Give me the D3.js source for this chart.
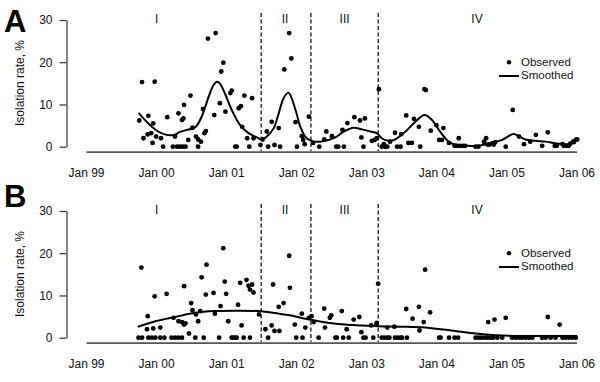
<!DOCTYPE html>
<html>
<head>
<meta charset="utf-8">
<script src="https://cdn.jsdelivr.net/npm/d3@7"></script>
<style>
  body { margin: 0; background: #fff; }
  svg { display: block; font-family: "Liberation Sans", Arial, sans-serif; }
</style>
</head>
<body>
<div id="chart"></div>
<script>
// dates are decimal years, values are isolation rate in %
const years = [1999, 2000, 2001, 2002, 2003, 2004, 2005, 2006];
const yTicks = [0, 10, 20, 30];
const periodBreaks = [2001.50, 2002.21, 2003.17];
const periodNames = ["I", "II", "III", "IV"];
const periodNamePos = [2000.01, 2001.84, 2002.69, 2004.58];

const observedA = [
  [1999.76, 6.2], [1999.80, 15.3], [1999.82, 2.0], [1999.88, 2.9], [1999.89, 7.3], [1999.93, 3.2],
  [1999.95, 0.9], [1999.96, 5.5], [1999.98, 15.4], [2000.00, 2.4], [2000.07, 2.0], [2000.10, 0],
  [2000.16, 7.0], [2000.24, 0], [2000.27, 2.4], [2000.30, 0], [2000.32, 7.9], [2000.34, 0],
  [2000.37, 6.3], [2000.38, 0], [2000.39, 6.7], [2000.40, 9.9], [2000.42, 0], [2000.46, 1.6],
  [2000.49, 12.1], [2000.52, 4.5], [2000.57, 2.4], [2000.60, 1.7], [2000.60, 0], [2000.64, 1.2],
  [2000.67, 8.9], [2000.69, 3.2], [2000.71, 3.7], [2000.74, 25.6], [2000.83, 7.5], [2000.85, 26.9],
  [2000.91, 10.3], [2000.93, 17.8], [2000.96, 19.9], [2000.99, 8.3], [2001.06, 12.7], [2001.08, 13.3],
  [2001.13, 0], [2001.15, 0], [2001.18, 9.1], [2001.21, 9.6], [2001.23, 4.7], [2001.26, 12.1],
  [2001.30, 2.0], [2001.33, 0], [2001.37, 11.5], [2001.39, 2.0], [2001.49, 0.4], [2001.52, 1.7],
  [2001.58, 3.6], [2001.60, 0], [2001.65, 5.9], [2001.69, 0.4], [2001.75, 4.4], [2001.77, 0],
  [2001.83, 18.3], [2001.90, 26.9], [2001.93, 20.9], [2001.99, 5.8], [2002.01, 0], [2002.08, 2.5],
  [2002.10, 1.6], [2002.12, 0.6], [2002.18, 7.1], [2002.24, 0.9], [2002.33, 0], [2002.40, 1.7],
  [2002.43, 3.6], [2002.51, 2.5], [2002.57, 0], [2002.60, 0], [2002.66, 4.0], [2002.68, 0],
  [2002.73, 5.6], [2002.83, 7.0], [2002.91, 6.2], [2002.93, 2.2], [2002.96, 0], [2002.98, 6.7],
  [2003.08, 1.4], [2003.12, 1.6], [2003.15, 2.0], [2003.18, 13.6], [2003.22, 0], [2003.25, 0.6],
  [2003.27, 0], [2003.30, 0], [2003.34, 1.2], [2003.41, 3.3], [2003.44, 0], [2003.49, 0],
  [2003.50, 3.0], [2003.57, 7.4], [2003.60, 0.9], [2003.65, 0.9], [2003.68, 6.6], [2003.75, 4.7],
  [2003.77, 0], [2003.83, 13.6], [2003.85, 13.4], [2003.92, 3.8], [2004.00, 5.1], [2004.04, 1.6],
  [2004.08, 1.6], [2004.10, 4.4], [2004.18, 0.9], [2004.26, 0.2], [2004.30, 0.2], [2004.32, 2.0],
  [2004.34, 0.2], [2004.38, 0.2], [2004.41, 0.2], [2004.56, 0], [2004.60, 0], [2004.68, 1.2],
  [2004.71, 2.0], [2004.73, 0.5], [2004.76, 0.5], [2004.80, 0.8], [2004.82, 0.5], [2004.84, 1.1],
  [2004.99, 0], [2005.09, 8.7], [2005.18, 2.4], [2005.25, 0.6], [2005.34, 1.2], [2005.42, 2.8],
  [2005.51, 0.2], [2005.59, 3.4], [2005.69, 0.2], [2005.72, 0.2], [2005.80, 0.6], [2005.82, 0.2],
  [2005.86, 0.2], [2005.89, 0.2], [2005.91, 0.7], [2005.95, 1.2], [2005.99, 1.6], [2006.01, 1.7]
];

const smoothedA = [
  [1999.75, 8.0], [1999.89, 5.5], [2000.03, 3.6], [2000.15, 2.8], [2000.26, 2.8], [2000.34, 3.5],
  [2000.45, 4.0], [2000.56, 4.6], [2000.65, 7.1], [2000.75, 11.8], [2000.82, 14.6], [2000.87, 15.4],
  [2000.91, 15.0], [2000.99, 12.3], [2001.08, 8.7], [2001.20, 5.1], [2001.32, 3.2], [2001.44, 2.2],
  [2001.51, 1.7], [2001.58, 2.4], [2001.68, 4.4], [2001.75, 7.9], [2001.82, 11.5], [2001.89, 12.8],
  [2001.99, 8.7], [2002.06, 4.7], [2002.15, 2.0], [2002.25, 1.2], [2002.34, 1.2], [2002.46, 1.6],
  [2002.58, 2.4], [2002.68, 3.6], [2002.82, 4.5], [2002.94, 4.1], [2003.06, 3.6], [2003.15, 3.2],
  [2003.22, 2.0], [2003.32, 1.4], [2003.41, 1.7], [2003.56, 3.6], [2003.70, 5.9], [2003.83, 7.5],
  [2003.94, 6.3], [2003.99, 5.1], [2004.08, 3.0], [2004.20, 0.9], [2004.32, 0.4], [2004.46, 0.2],
  [2004.60, 0.2], [2004.75, 0.8], [2004.94, 1.6], [2005.03, 2.5], [2005.10, 3.0], [2005.18, 2.5],
  [2005.27, 1.7], [2005.41, 1.4], [2005.56, 1.2], [2005.70, 0.8], [2005.84, 0.6], [2005.99, 0.9]
];

const observedB = [
  [1999.75, 0], [1999.79, 16.6], [1999.80, 0], [1999.87, 2.0], [1999.88, 5.1], [1999.89, 0],
  [1999.94, 0], [1999.96, 2.2], [1999.98, 9.8], [1999.99, 0], [2000.06, 2.4], [2000.06, 0],
  [2000.12, 0], [2000.15, 10.4], [2000.22, 0], [2000.25, 4.7], [2000.27, 0], [2000.32, 0],
  [2000.32, 3.9], [2000.37, 0], [2000.37, 3.7], [2000.40, 3.1], [2000.40, 12.2], [2000.42, 3.4],
  [2000.47, 1.0], [2000.50, 8.2], [2000.52, 6.5], [2000.56, 0], [2000.57, 5.5], [2000.60, 3.9],
  [2000.63, 6.3], [2000.65, 14.3], [2000.68, 0], [2000.71, 10.2], [2000.72, 17.3], [2000.82, 10.6],
  [2000.84, 5.7], [2000.90, 0], [2000.92, 7.5], [2000.96, 21.2], [2000.98, 13.3], [2001.00, 10.4],
  [2001.03, 3.9], [2001.08, 0], [2001.10, 0], [2001.13, 0], [2001.15, 0], [2001.17, 7.8],
  [2001.20, 13.0], [2001.22, 2.9], [2001.25, 0], [2001.29, 13.7], [2001.32, 12.3], [2001.34, 11.4],
  [2001.34, 0], [2001.37, 12.6], [2001.39, 10.7], [2001.47, 5.5], [2001.56, 2.0], [2001.60, 0],
  [2001.65, 2.9], [2001.67, 12.6], [2001.69, 1.6], [2001.75, 7.3], [2001.76, 1.6], [2001.82, 8.2],
  [2001.90, 19.4], [2001.91, 11.8], [2001.98, 3.1], [2002.00, 0], [2002.08, 5.7], [2002.09, 0],
  [2002.13, 2.4], [2002.18, 4.7], [2002.22, 5.1], [2002.25, 3.7], [2002.32, 0], [2002.40, 6.9],
  [2002.41, 2.4], [2002.48, 4.7], [2002.50, 5.3], [2002.56, 0], [2002.58, 0], [2002.65, 6.3],
  [2002.67, 0], [2002.72, 2.0], [2002.75, 0], [2002.82, 4.3], [2002.90, 4.9], [2002.93, 1.3],
  [2002.96, 0], [2002.99, 0], [2003.07, 2.9], [2003.10, 0], [2003.14, 3.1], [2003.15, 3.5],
  [2003.17, 12.8], [2003.22, 0], [2003.26, 0], [2003.30, 0], [2003.30, 2.4], [2003.33, 0],
  [2003.40, 2.6], [2003.41, 0], [2003.45, 0], [2003.49, 0], [2003.51, 0], [2003.57, 6.8],
  [2003.58, 0], [2003.66, 4.5], [2003.75, 7.3], [2003.76, 1.7], [2003.82, 3.7], [2003.84, 16.1],
  [2003.91, 6.0], [2004.04, 0], [2004.06, 0], [2004.18, 0], [2004.26, 0], [2004.31, 0],
  [2004.56, 0], [2004.60, 0], [2004.64, 0], [2004.69, 0], [2004.73, 0], [2004.74, 3.7],
  [2004.77, 0], [2004.81, 0], [2004.83, 4.3], [2004.87, 0], [2004.94, 0], [2004.99, 4.7],
  [2005.08, 0], [2005.13, 0], [2005.18, 0], [2005.22, 0], [2005.27, 0], [2005.32, 0],
  [2005.37, 0], [2005.51, 0], [2005.56, 0], [2005.59, 4.9], [2005.63, 0], [2005.70, 0],
  [2005.76, 3.1], [2005.80, 0], [2005.84, 0], [2005.89, 0], [2005.94, 0], [2005.99, 0]
];

const smoothedB = [
  [1999.74, 2.6], [1999.99, 3.9], [2000.27, 4.9], [2000.56, 5.9], [2000.84, 6.3], [2001.13, 6.4],
  [2001.46, 6.3], [2001.75, 5.7], [2001.91, 5.3], [2002.13, 4.5], [2002.32, 3.9], [2002.51, 3.4],
  [2002.70, 3.1], [2002.94, 2.9], [2003.18, 2.7], [2003.51, 2.6], [2003.84, 2.4], [2004.06, 2.0],
  [2004.27, 1.6], [2004.56, 1.0], [2004.84, 0.6], [2005.18, 0.4], [2005.51, 0.4], [2006.01, 0.4]
];

const width = 600;
const height = 382;

const x = d3.scaleLinear()
    .domain([1999, 2006])
    .range([86, 576.5]);

const y = d3.scaleLinear()
    .domain([0, 30])
    .range([146.7, 20]);

const svg = d3.select("#chart").append("svg")
    .attr("width", width)
    .attr("height", height)
    .attr("viewBox", [0, 0, width, height]);

const line = d3.line()
    .x(d => x(d[0]))
    .y(d => y(d[1]))
    .curve(d3.curveCatmullRom.alpha(0.5));

function drawPanel(top, label, labelY, observed, smoothed) {
  const g = svg.append("g")
      .attr("transform", `translate(0,${top})`);

  // y axis
  g.append("g")
      .attr("transform", "translate(66.5,0)")
      .call(d3.axisLeft(y).tickValues(yTicks).tickSize(7).tickPadding(7).tickSizeOuter(0))
      .call(a => a.selectAll("path, line").attr("stroke", "#333").attr("stroke-width", 1.2))
      .call(a => a.selectAll("text").attr("font-size", 12).attr("fill", "#111")
        .attr("font-family", "Liberation Sans, Arial, sans-serif"));

  // x axis, no tick marks
  g.append("g")
      .attr("transform", "translate(0,151.7)")
      .call(d3.axisBottom(x).tickValues(years).tickSize(0).tickPadding(16.5).tickSizeOuter(0)
        .tickFormat(d => "Jan " + String(d % 100).padStart(2, "0")))
      .call(a => a.select("path").attr("stroke", "#555").attr("stroke-width", 1.8))
      .call(a => a.selectAll("text").attr("font-size", 12).attr("fill", "#111")
        .attr("font-family", "Liberation Sans, Arial, sans-serif"));

  g.append("text")
      .attr("transform", "translate(24,83) rotate(-90)")
      .attr("text-anchor", "middle")
      .attr("font-size", 12)
      .attr("fill", "#111")
      .text("Isolation rate, %");

  // period separators
  g.selectAll(".period")
    .data(periodBreaks)
    .join("line")
      .attr("class", "period")
      .attr("x1", d => x(d)).attr("x2", d => x(d))
      .attr("y1", 13).attr("y2", 151)
      .attr("stroke", "#000")
      .attr("stroke-width", 1.2)
      .attr("stroke-dasharray", "4,2.5");

  g.selectAll(".period-name")
    .data(periodNames)
    .join("text")
      .attr("class", "period-name")
      .attr("x", (d, i) => x(periodNamePos[i]))
      .attr("y", 23)
      .attr("text-anchor", "middle")
      .attr("font-size", 12)
      .attr("fill", "#111")
      .text(d => d);

  g.append("path")
      .datum(smoothed)
      .attr("fill", "none")
      .attr("stroke", "#000")
      .attr("stroke-width", 2)
      .attr("stroke-linejoin", "round")
      .attr("d", line);

  g.selectAll(".obs")
    .data(observed)
    .join("circle")
      .attr("class", "obs")
      .attr("cx", d => x(d[0]))
      .attr("cy", d => y(d[1]))
      .attr("r", 2.4)
      .attr("fill", "#000");

  // legend
  const leg = g.append("g").attr("transform", "translate(499,62.2)");
  leg.append("circle").attr("cx", 10).attr("cy", 0).attr("r", 2.2).attr("fill", "#000");
  leg.append("text").attr("x", 22).attr("y", 4).attr("font-size", 11.5).attr("fill", "#111").text("Observed");
  leg.append("line").attr("x1", 0).attr("x2", 20).attr("y1", 13.8).attr("y2", 13.8)
      .attr("stroke", "#000").attr("stroke-width", 2);
  leg.append("text").attr("x", 22).attr("y", 17).attr("font-size", 11.5).attr("fill", "#111").text("Smoothed");

  svg.append("text")
      .attr("x", 4)
      .attr("y", labelY)
      .attr("font-size", 31)
      .attr("font-weight", 900)
      .attr("fill", "#000")
      .text(label);
}

drawPanel(0, "A", 31.7, observedA, smoothedA);
drawPanel(191, "B", 206.5, observedB, smoothedB);
</script>
</body>
</html>
